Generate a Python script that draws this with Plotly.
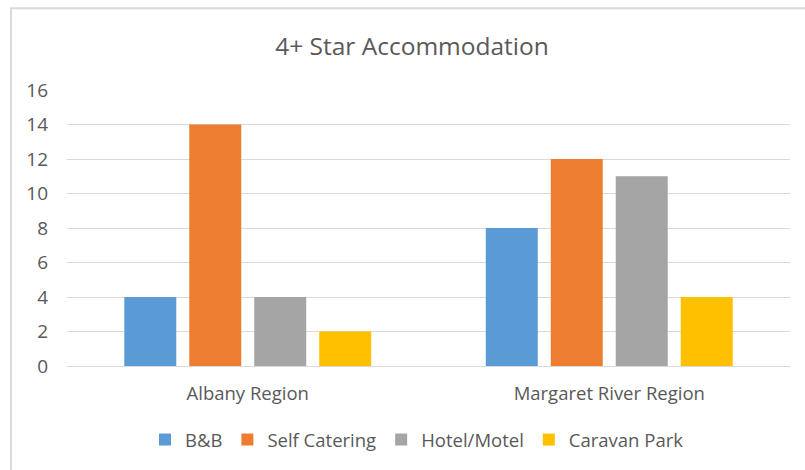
import plotly.graph_objects as go

categories = ["Albany Region", "Margaret River Region"]
series_names = ["B&B", "Self Catering", "Hotel/Motel", "Caravan Park"]
bnb = [4, 8]
self_catering = [14, 12]
hotel_motel = [4, 11]
caravan_park = [2, 4]
colors = ["#5B9BD5", "#ED7D31", "#A5A5A5", "#FFC000"]
y_ticks = [0, 2, 4, 6, 8, 10, 12, 14, 16]

font_family = "'Open Sans', Lato, sans-serif"
text_color = "#595959"

fig = go.Figure()
for name, vals, col in zip(series_names, [bnb, self_catering, hotel_motel, caravan_park], colors):
    fig.add_trace(go.Bar(x=categories, y=vals, name=name, marker=dict(color=col, line=dict(width=0))))

fig.update_layout(
    width=805, height=470,
    margin=dict(l=67, r=15, t=90, b=103),
    paper_bgcolor="white", plot_bgcolor="white",
    barmode="group", bargap=0.281, bargroupgap=0.2,
    title=dict(text="4+ Star Accommodation", x=412 / 805, xanchor="center", y=1 - 46/470, yanchor="middle",
               font=dict(family=font_family, size=24.5, color=text_color)),
    font=dict(family=font_family, size=18, color=text_color),
    legend=dict(orientation="h", x=(417 - 67) / 723, xanchor="center", y=(367 - 440) / 277, yanchor="middle",
                font=dict(size=18.5, color=text_color), itemwidth=30, traceorder="normal"),
    showlegend=True,
)
fig.update_xaxes(showgrid=False, showline=False, ticks="", ticklabelstandoff=14,
                 tickfont=dict(size=18.5, color=text_color))
fig.update_yaxes(range=[0, 16], tickvals=y_ticks, showgrid=True, gridcolor="#D9D9D9", gridwidth=1,
                 zeroline=True, zerolinecolor="#D9D9D9", zerolinewidth=1, showline=False, ticks="",
                 ticklabelstandoff=18, tickfont=dict(size=19, color=text_color))

fig.add_shape(type="rect", xref="paper", yref="paper", x0=(11 - 67) / 723, x1=1.04,
              y0=-0.5, y1=(367 - 8) / 277, line=dict(color="#D9D9D9", width=2), fillcolor="rgba(0,0,0,0)",
              layer="below")

fig.write_html("out.html", config={"displayModeBar": False},
               post_script="document.body.style.margin='0';")
